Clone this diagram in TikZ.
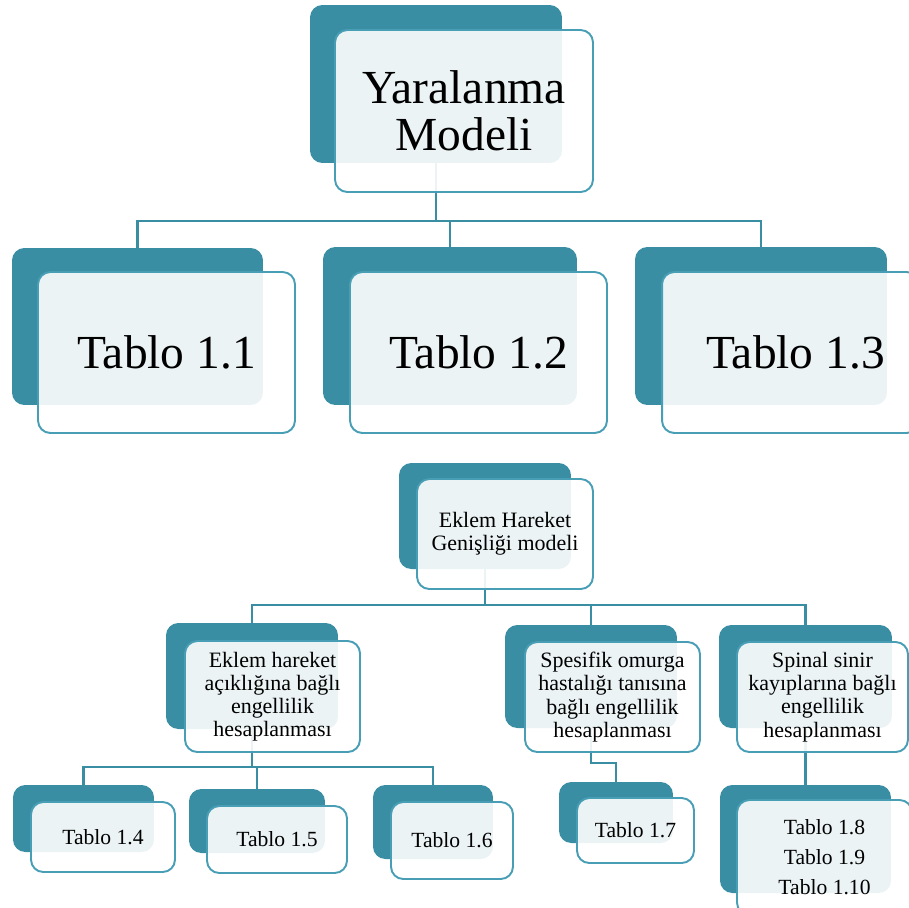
\documentclass[tikz,border=0pt]{standalone}
\usepackage{fontspec}
\setmainfont{Liberation Serif}
\usepackage{tikz}
\usetikzlibrary{positioning,backgrounds,calc}
\definecolor{tealdark}{RGB}{58,142,163}
\definecolor{tealedge}{RGB}{72,158,181}

\begin{document}
\begin{tikzpicture}[x=0.02cm, y=-0.02cm,
    back/.style={fill=tealdark, draw=none, rounded corners=7pt},
    front/.style={draw=tealedge, line width=1.1pt, fill=white, fill opacity=0.9,
      text opacity=1, rounded corners=7pt, align=center, inner sep=0pt},
    bigtxt/.style={font=\fontsize{27}{26.7}\selectfont},
    midtxt/.style={font=\fontsize{12.5}{13.2}\selectfont},
    smalltxt/.style={font=\fontsize{12.3}{17}\selectfont},
    link/.style={draw=tealdark, line width=1.2pt}
  ]
    \useasboundingbox (0,0) rectangle (909,907);
    % top level
    \node[back, minimum width=5.04cm, minimum height=3.16cm] (ymB) at (436,84) {};
    \node[front, bigtxt, minimum width=5.16cm, minimum height=3.24cm] (ymF) at (464,111)
      {Yaralanma\\Modeli};
    % first row
    \node[back, minimum width=5.02cm, minimum height=3.14cm] (t11B) at (137.5,326.5) {};
    \node[front, bigtxt, minimum width=5.14cm, minimum height=3.22cm] (t11F) at (166.5,352.5)
      {Tablo 1.1};
    \node[back, minimum width=5.08cm, minimum height=3.16cm] (t12B) at (450,326) {};
    \node[front, bigtxt, minimum width=5.14cm, minimum height=3.22cm] (t12F) at (478.5,352.5)
      {Tablo 1.2};
    \node[back, minimum width=5.04cm, minimum height=3.16cm] (t13B) at (761,326) {};
    \node[front, bigtxt, minimum width=5.14cm, minimum height=3.22cm] (t13F) at (790.5,352.5)
      {\hspace*{0.2cm}Tablo 1.3};
    % second tree
    \node[back, minimum width=3.44cm, minimum height=2.12cm] (ehB) at (485,516) {};
    \node[front, midtxt, minimum width=3.52cm, minimum height=2.2cm] (ehF) at (505,534)
      {Eklem Hareket\\Genişliği modeli};
    \node[back, minimum width=3.44cm, minimum height=2.12cm] (aB) at (252,676) {};
    \node[front, midtxt, minimum width=3.5cm, minimum height=2.22cm] (aF) at (272.5,696.5)
      {Eklem hareket\\açıklığına bağlı\\engellilik\\hesaplanması};
    \node[back, minimum width=3.44cm, minimum height=2.06cm] (bB) at (591,676.5) {};
    \node[front, midtxt, minimum width=3.5cm, minimum height=2.2cm] (bF) at (612.5,697)
      {Spesifik omurga\\hastalığı tanısına\\bağlı engellilik\\hesaplanması};
    \node[back, minimum width=3.46cm, minimum height=2.06cm] (cB) at (805.5,676.5) {};
    \node[front, midtxt, minimum width=3.42cm, minimum height=2.2cm] (cF) at (822.5,697)
      {Spinal sinir\\kayıplarına bağlı\\engellilik\\hesaplanması};
    % leaves
    \node[back, minimum width=2.82cm, minimum height=1.34cm] (t14B) at (83.5,818.5) {};
    \node[front, smalltxt, minimum width=2.88cm, minimum height=1.4cm] (t14F) at (103,837)
      {Tablo 1.4};
    \node[back, minimum width=2.72cm, minimum height=1.28cm] (t15B) at (257,821) {};
    \node[front, smalltxt, minimum width=2.8cm, minimum height=1.34cm] (t15F) at (277,839.5)
      {Tablo 1.5};
    \node[back, minimum width=2.4cm, minimum height=1.48cm] (t16B) at (433,822) {};
    \node[front, smalltxt, minimum width=2.44cm, minimum height=1.54cm] (t16F) at (452,840.5)
      {Tablo 1.6};
    \node[back, minimum width=2.28cm, minimum height=1.22cm] (t17B) at (616,812.5) {};
    \node[front, smalltxt, minimum width=2.34cm, minimum height=1.3cm] (t17F) at (635.5,830.5)
      {Tablo 1.7};
    \node[back, minimum width=3.42cm, minimum height=2.16cm] (tcB) at (805.5,839) {};
    \node[front, smalltxt, minimum width=3.5cm, minimum height=2.3cm] (tcF) at (824.5,857.5)
      {Tablo 1.8\\Tablo 1.9\\Tablo 1.10};
    % connectors
    \begin{scope}[on background layer]
      \coordinate (busTop) at (436,221);
      \coordinate (busEh) at (485,605);
      \coordinate (busA) at (252,767);
      \draw[link] (ymB.south) -- (busTop);
      \draw[link] (t11B.north) |- (busTop) -| (t13B.north);
      \draw[link] (t12B.north) -- (t12B.north |- busTop);
      \draw[link] (ehB.south) -- (busEh);
      \draw[link] (aB.north) |- (busEh) -| (cB.north);
      \draw[link] (bB.north) -- (bB.north |- busEh);
      \draw[link] (aB.south) -- (busA);
      \draw[link] (t14B.north) |- (busA) -| (t16B.north);
      \draw[link] (t15B.north) -- (t15B.north |- busA);
      \draw[link] (bB.south) -- ++(0,35) -| (t17B.north);
      \draw[link] (cB.south) -- (tcB.north);
    \end{scope}
  \end{tikzpicture}
\end{document}
